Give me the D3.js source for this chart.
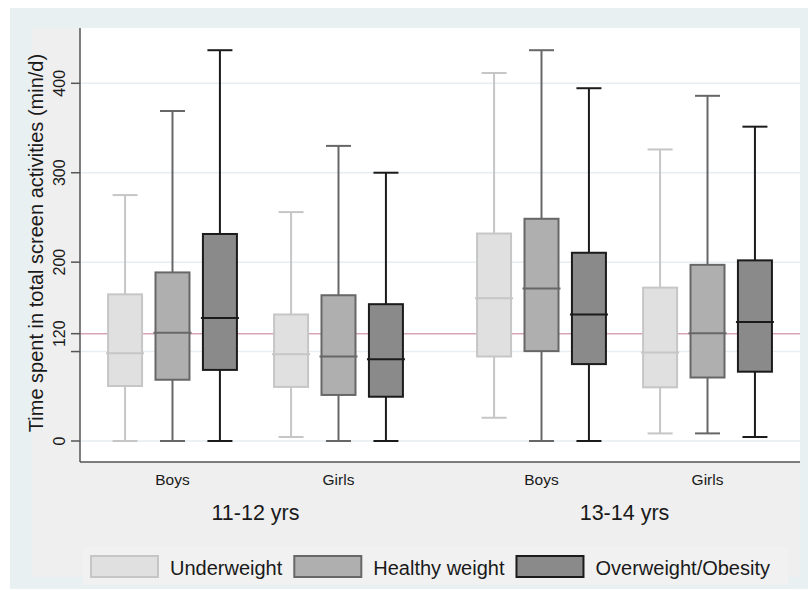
<!DOCTYPE html>
<html>
<head>
<meta charset="utf-8">
<script src="https://cdn.jsdelivr.net/npm/d3@7"></script>
<style>
  body { margin: 0; background: #fff; }
  text { font-family: "Liberation Sans", Arial, sans-serif; fill: #1a1a1a; }
</style>
</head>
<body>
<div id="chart"></div>
<script>
const ages = ["11-12 yrs", "13-14 yrs"];
const sexes = ["Boys", "Girls"];
const weights = ["Underweight", "Healthy weight", "Overweight/Obesity"];

// one value per box, ordered age -> sex -> weight
const whiskerLow  = [0, 0, 0,       4.5, 0, 0,       26, 0, 0,          8.5, 8.5, 4.5];
const q1          = [61.5, 68.5, 79.5, 60.5, 51.5, 49.5, 94.5, 100.5, 86, 60, 71, 77.5];
const median      = [98, 121, 137.5, 97, 94.5, 91.5, 159.5, 170.5, 141.5, 99, 120.5, 133];
const q3          = [164, 188.5, 231.5, 141.5, 163, 153, 232, 248.5, 210.5, 171.5, 197, 202];
const whiskerHigh = [275, 369, 437, 256, 330, 300, 411.5, 437, 394.5, 326, 386, 351.5];

const gridValues = [0, 100, 200, 300, 400];
const tickValues = [0, 100, 120, 200, 300, 400];
const tickLabels = ["0", "120", "200", "300", "400"];
const refValue = 120;

const width = 808;
const height = 590;
const plot = { left: 80, right: 800, top: 28, bottom: 462 };

const fills = ["#e0e0e0", "#afafaf", "#8a8a8a"];
const strokes = ["#c6c6c6", "#676767", "#1b1b1b"];

const svg = d3.select("#chart")
  .append("svg")
  .attr("width", width)
  .attr("height", height);

// backgrounds
svg.append("rect").attr("x", 10).attr("y", 8).attr("width", width - 10).attr("height", height - 9).attr("fill", "#e8f0f2");
svg.append("rect").attr("x", 32).attr("y", 28).attr("width", 768).attr("height", 549).attr("fill", "#efefef");
svg.append("rect").attr("x", plot.left).attr("y", plot.top)
  .attr("width", plot.right - plot.left).attr("height", plot.bottom - plot.top).attr("fill", "#fff");

const y = d3.scaleLinear().domain([0, 400]).range([441, 83.3]);

const unitPos = (a, s, w) => a * 7.78 + s * 3.5 + w;
const x = d3.scaleLinear().domain([-0.95, 14.23]).range([plot.left, plot.right]);

const boxes = [];
ages.forEach((age, a) => sexes.forEach((sex, s) => weights.forEach((wt, w) => {
  const i = boxes.length;
  boxes.push({
    age, sex, wt, w,
    cx: x(unitPos(a, s, w)),
    lo: whiskerLow[i], q1: q1[i], med: median[i], q3: q3[i], hi: whiskerHigh[i]
  });
})));

// grid + reference line
svg.append("g")
  .selectAll("line")
  .data(gridValues)
  .join("line")
  .attr("x1", plot.left).attr("x2", plot.right)
  .attr("y1", d => y(d)).attr("y2", d => y(d))
  .attr("stroke", "#e6eef1")
  .attr("stroke-width", 1.5);

svg.append("line")
  .attr("x1", plot.left).attr("x2", plot.right)
  .attr("y1", y(refValue)).attr("y2", y(refValue))
  .attr("stroke", "#d9a5b4")
  .attr("stroke-width", 1.6);

// boxes
const boxW = 34;
const capW = 25;
const bg = svg.append("g")
  .selectAll("g")
  .data(boxes)
  .join("g")
  .attr("stroke", d => strokes[d.w])
  .attr("stroke-width", 2);

bg.append("line")
  .attr("x1", d => d.cx).attr("x2", d => d.cx)
  .attr("y1", d => y(d.hi)).attr("y2", d => y(d.q3));
bg.append("line")
  .attr("x1", d => d.cx).attr("x2", d => d.cx)
  .attr("y1", d => y(d.q1)).attr("y2", d => y(d.lo));
bg.append("line")
  .attr("x1", d => d.cx - capW / 2).attr("x2", d => d.cx + capW / 2)
  .attr("y1", d => y(d.hi)).attr("y2", d => y(d.hi));
bg.append("line")
  .attr("x1", d => d.cx - capW / 2).attr("x2", d => d.cx + capW / 2)
  .attr("y1", d => y(d.lo)).attr("y2", d => y(d.lo));
bg.append("rect")
  .attr("x", d => d.cx - boxW / 2)
  .attr("width", boxW)
  .attr("y", d => y(d.q3))
  .attr("height", d => y(d.q1) - y(d.q3))
  .attr("fill", d => fills[d.w]);
bg.append("line")
  .attr("x1", d => d.cx - boxW / 2 - 2).attr("x2", d => d.cx + boxW / 2 + 2)
  .attr("y1", d => y(d.med)).attr("y2", d => y(d.med));

// axes
svg.append("line")
  .attr("x1", plot.left).attr("x2", plot.left)
  .attr("y1", plot.top).attr("y2", plot.bottom)
  .attr("stroke", "#555").attr("stroke-width", 1.5);
svg.append("line")
  .attr("x1", plot.left).attr("x2", plot.right)
  .attr("y1", plot.bottom).attr("y2", plot.bottom)
  .attr("stroke", "#555").attr("stroke-width", 1.5);

svg.append("g")
  .selectAll("line")
  .data(tickValues)
  .join("line")
  .attr("x1", plot.left - 9).attr("x2", plot.left)
  .attr("y1", d => y(d)).attr("y2", d => y(d))
  .attr("stroke", "#555").attr("stroke-width", 1.5);

svg.append("g")
  .selectAll("text")
  .data(tickLabels)
  .join("text")
  .attr("transform", d => `translate(65,${y(+d)}) rotate(-90)`)
  .attr("text-anchor", "middle")
  .style("font-size", "16px")
  .text(d => d);

svg.append("text")
  .attr("transform", `translate(43,243) rotate(-90)`)
  .attr("text-anchor", "middle")
  .style("font-size", "20px")
  .text("Time spent in total screen activities (min/d)");

// category labels
const sexLabels = [];
ages.forEach((age, a) => sexes.forEach((sex, s) => sexLabels.push({ sex, cx: x(unitPos(a, s, 1)) })));
svg.append("g")
  .selectAll("text")
  .data(sexLabels)
  .join("text")
  .attr("x", d => d.cx)
  .attr("y", 485)
  .attr("text-anchor", "middle")
  .style("font-size", "15.5px")
  .text(d => d.sex);

svg.append("g")
  .selectAll("text")
  .data(ages)
  .join("text")
  .attr("x", (d, a) => (x(unitPos(a, 0, 0)) + x(unitPos(a, 1, 2))) / 2)
  .attr("y", 520)
  .attr("text-anchor", "middle")
  .style("font-size", "21.5px")
  .text(d => d);

// legend
svg.append("rect")
  .attr("x", 83).attr("y", 547).attr("width", 705).attr("height", 38)
  .attr("fill", "#f1f1f1");

let lx = 91;
weights.forEach((wt, w) => {
  svg.append("rect")
    .attr("x", lx).attr("y", 556).attr("width", 67).attr("height", 21)
    .attr("fill", fills[w]).attr("stroke", strokes[w]).attr("stroke-width", 2);
  const t = svg.append("text")
    .attr("x", lx + 79).attr("y", 575)
    .style("font-size", "20px")
    .text(wt);
  lx += 79 + t.node().getComputedTextLength() + 12;
});
</script>
</body>
</html>
